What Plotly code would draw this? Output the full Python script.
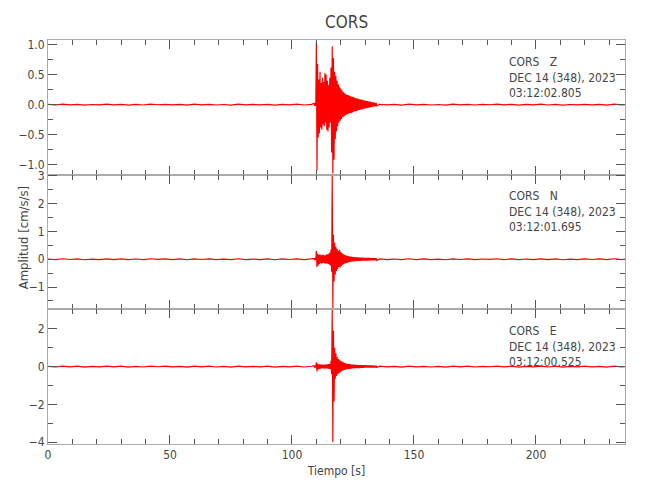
import numpy as np
import plotly.graph_objects as go
from plotly.subplots import make_subplots

# sample spacing of the amplitude lists (seconds)
dt_quiet = 3.0
dt_event = 0.25
t_event_start = 109.0
t_post_start = 136.0

components = ["Z", "N", "E"]
start_times = ["03:12:02.805", "03:12:01.695", "03:12:00.525"]
station = "CORS"
date_text = "DEC 14 (348), 2023"

# --- Z component (cm/s/s) ---
z_pre = [0.004, -0.006, 0.008, -0.003, 0.006, -0.008, 0.002, -0.005, 0.007, -0.004,
         0.005, -0.007, 0.003, -0.006, 0.008, -0.002, 0.006, -0.005, 0.004, -0.008,
         0.007, -0.003, 0.005, -0.006, 0.002, -0.007, 0.008, -0.004, 0.003, -0.005,
         0.006, -0.008, 0.004, -0.003, 0.007, -0.006, 0.005]
z_event = [0.02, -0.02, 0.03, -0.02,
           1.05, -1.10, 0.68, -0.55,
           0.42, -0.48, 0.55, -0.38,
           0.36, -0.42, 0.45, -0.33,
           0.38, -0.36, 0.53, -0.30,
           0.50, -0.42, 0.40, -0.45,
           0.33, -0.38, 0.45, -0.30,
           0.62, -0.80, 0.97, -1.15,
           0.78, -0.92, 0.55, -0.58,
           0.48, -0.45, 0.40, -0.36,
           0.34, -0.30, 0.30, -0.27,
           0.27, -0.24, 0.24, -0.21,
           0.21, -0.20, 0.19, -0.18,
           0.18, -0.17, 0.16, -0.16,
           0.16, -0.15, 0.15, -0.14,
           0.14, -0.14, 0.13, -0.13,
           0.13, -0.12, 0.12, -0.11,
           0.11, -0.11, 0.10, -0.10,
           0.10, -0.09, 0.09, -0.09,
           0.09, -0.08, 0.08, -0.08,
           0.08, -0.07, 0.07, -0.07,
           0.07, -0.06, 0.06, -0.06,
           0.06, -0.05, 0.05, -0.05,
           0.05, -0.04, 0.04, -0.04,
           0.04, -0.03, 0.04, -0.03,
           0.03, -0.03, 0.03, -0.02]
z_post = [0.006, -0.004, 0.003, -0.007, 0.008, -0.005, 0.004, -0.006, 0.002, -0.008,
          0.007, -0.003, 0.005, -0.006, 0.004, -0.002, 0.008, -0.005, 0.006, -0.007,
          0.003, -0.004, 0.007, -0.006, 0.005, -0.008, 0.002, -0.005, 0.006, -0.003,
          0.004, -0.007, 0.008, -0.004, 0.005]

# --- N component ---
n_pre = [0.010, -0.015, 0.018, -0.008, 0.014, -0.018, 0.006, -0.012, 0.016, -0.010,
         0.012, -0.016, 0.008, -0.014, 0.018, -0.006, 0.014, -0.012, 0.010, -0.018,
         0.016, -0.008, 0.012, -0.014, 0.006, -0.016, 0.018, -0.010, 0.008, -0.012,
         0.014, -0.018, 0.010, -0.008, 0.016, -0.014, 0.012]
n_event = [0.03, -0.03, 0.04, -0.03,
           0.30, -0.28, 0.20, -0.22,
           0.16, -0.17, 0.18, -0.14,
           0.14, -0.15, 0.16, -0.13,
           0.15, -0.14, 0.13, -0.16,
           0.17, -0.15, 0.18, -0.17,
           0.20, -0.19, 0.24, -0.22,
           0.35, -0.45, 3.00, -1.75,
           0.88, -0.80, 0.60, -0.55,
           0.45, -0.42, 0.38, -0.35,
           0.30, -0.28, 0.34, -0.30,
           0.27, -0.24, 0.22, -0.20,
           0.18, -0.17, 0.16, -0.15,
           0.14, -0.13, 0.12, -0.12,
           0.12, -0.11, 0.10, -0.10,
           0.10, -0.09, 0.09, -0.08,
           0.08, -0.08, 0.08, -0.07,
           0.07, -0.07, 0.07, -0.06,
           0.07, -0.06, 0.06, -0.06,
           0.06, -0.06, 0.06, -0.05,
           0.06, -0.05, 0.05, -0.05,
           0.05, -0.05, 0.05, -0.05,
           0.05, -0.05, 0.05, -0.04,
           0.05, -0.04, 0.04, -0.04,
           0.04, -0.04, 0.04, -0.04,
           0.04, -0.04, 0.04, -0.04]
n_post = [0.014, -0.010, 0.008, -0.016, 0.018, -0.012, 0.010, -0.014, 0.006, -0.018,
          0.016, -0.008, 0.012, -0.014, 0.010, -0.006, 0.018, -0.012, 0.014, -0.016,
          0.008, -0.010, 0.016, -0.014, 0.012, -0.018, 0.006, -0.012, 0.014, -0.008,
          0.010, -0.016, 0.018, -0.010, 0.012]

# --- E component ---
e_pre = [0.015, -0.022, 0.028, -0.012, 0.022, -0.028, 0.010, -0.018, 0.025, -0.015,
         0.018, -0.025, 0.012, -0.022, 0.028, -0.010, 0.022, -0.018, 0.015, -0.028,
         0.025, -0.012, 0.018, -0.022, 0.010, -0.025, 0.028, -0.015, 0.012, -0.018,
         0.022, -0.028, 0.015, -0.012, 0.025, -0.022, 0.018]
e_event = [0.05, -0.05, 0.06, -0.05,
           0.22, -0.26, 0.16, -0.15,
           0.12, -0.12, 0.10, -0.11,
           0.10, -0.10, 0.11, -0.09,
           0.09, -0.11, 0.10, -0.10,
           0.11, -0.10, 0.12, -0.11,
           0.13, -0.12, 0.15, -0.14,
           0.30, -0.40, 3.00, -4.00,
           1.90, -1.85, 1.00, -0.65,
           0.70, -0.50, 0.50, -0.40,
           0.40, -0.35, 0.36, -0.30,
           0.30, -0.26, 0.26, -0.22,
           0.22, -0.19, 0.19, -0.17,
           0.17, -0.15, 0.15, -0.14,
           0.14, -0.13, 0.13, -0.12,
           0.12, -0.11, 0.11, -0.10,
           0.10, -0.10, 0.10, -0.09,
           0.09, -0.09, 0.09, -0.08,
           0.08, -0.08, 0.08, -0.08,
           0.08, -0.07, 0.07, -0.07,
           0.07, -0.07, 0.07, -0.06,
           0.07, -0.06, 0.06, -0.06,
           0.06, -0.06, 0.06, -0.06,
           0.06, -0.06, 0.06, -0.05,
           0.06, -0.05, 0.05, -0.05,
           0.05, -0.05, 0.05, -0.05]
e_post = [0.022, -0.015, 0.012, -0.025, 0.028, -0.018, 0.015, -0.022, 0.010, -0.028,
          0.025, -0.012, 0.018, -0.022, 0.015, -0.010, 0.028, -0.018, 0.022, -0.025,
          0.012, -0.015, 0.025, -0.022, 0.018, -0.028, 0.010, -0.018, 0.022, -0.012,
          0.015, -0.025, 0.028, -0.015, 0.018]

y_ranges = [[-1.17, 1.08], [-1.8, 3.04], [-4.1, 3.03]]
y_dtick = [0.5, 1, 2]
y_minor = [0.25, 0.5, 1]
x_range = [0, 236.5]

FONT = "DejaVu Sans Condensed, DejaVu Sans, sans-serif"
TEXT = "#454545"
FRAME = "#aaaaaa"
TICK = "#555555"
RED = "#ff0000"


def build_times(pre, event, post):
    return np.concatenate([
        np.arange(len(pre)) * dt_quiet,
        t_event_start + np.arange(len(event)) * dt_event,
        t_post_start + np.arange(len(post)) * dt_quiet,
    ])


traces = [(z_pre, z_event, z_post), (n_pre, n_event, n_post), (e_pre, e_event, e_post)]

fig = make_subplots(rows=3, cols=1, shared_xaxes=True, vertical_spacing=0)

for row, (pre, event, post) in enumerate(traces, start=1):
    fig.add_trace(
        go.Scatter(x=build_times(pre, event, post),
                   y=pre + event + post,
                   mode="lines",
                   line=dict(color=RED, width=1.2),
                   showlegend=False),
        row=row, col=1)

    fig.update_yaxes(range=y_ranges[row - 1], dtick=y_dtick[row - 1],
                     tickformat=".1f" if row == 1 else "d",
                     ticks="inside", ticklen=9, tickwidth=1, tickcolor=TICK,
                     minor=dict(dtick=y_minor[row - 1], ticks="inside", ticklen=5,
                                tickcolor=TICK),
                     showline=True, linecolor=FRAME, linewidth=1, mirror="ticks",
                     showgrid=False, zeroline=False, automargin=False,
                     tickfont=dict(family=FONT, size=12, color=TEXT),
                     row=row, col=1)
    fig.update_xaxes(range=x_range, dtick=50, ticks="inside", ticklen=9, tickwidth=1,
                     tickcolor=TICK,
                     minor=dict(dtick=10, ticks="inside", ticklen=5, tickcolor=TICK),
                     showline=True, linecolor=FRAME, linewidth=1, mirror="ticks",
                     showgrid=False, zeroline=False, automargin=False,
                     showticklabels=(row == 3),
                     tickfont=dict(family=FONT, size=12, color=TEXT),
                     row=row, col=1)

fig.update_xaxes(title=dict(text="Tiempo [s]", font=dict(family=FONT, size=12, color=TEXT),
                            standoff=5), row=3, col=1)

# y title sits close to the tick labels, as in the original
fig.add_annotation(text="Amplitud [cm/s/s]", textangle=-90,
                   xref="paper", yref="paper", x=-0.041, y=0.51,
                   xanchor="center", yanchor="middle", showarrow=False,
                   font=dict(family=FONT, size=13, color=TEXT))

# station / date / start time labels in each panel
label_tops = [0.968, 0.635, 0.301]
for comp, start, ytop in zip(components, start_times, label_tops):
    fig.add_annotation(
        text=f"{station}\u00a0\u00a0\u00a0{comp}<br>{date_text}<br>{start}",
        xref="paper", yref="paper", x=0.795, y=ytop,
        xanchor="left", yanchor="top", align="left", showarrow=False,
        font=dict(family=FONT, size=12, color=TEXT))

fig.update_layout(
    width=650, height=500,
    margin=dict(l=40, r=33, t=32, b=64),
    paper_bgcolor="white", plot_bgcolor="white",
    title=dict(text=station, x=0.521, xanchor="center", y=0.972, yanchor="middle",
               font=dict(family=FONT, size=17, color=TEXT)),
)

fig.write_html("out.html")
